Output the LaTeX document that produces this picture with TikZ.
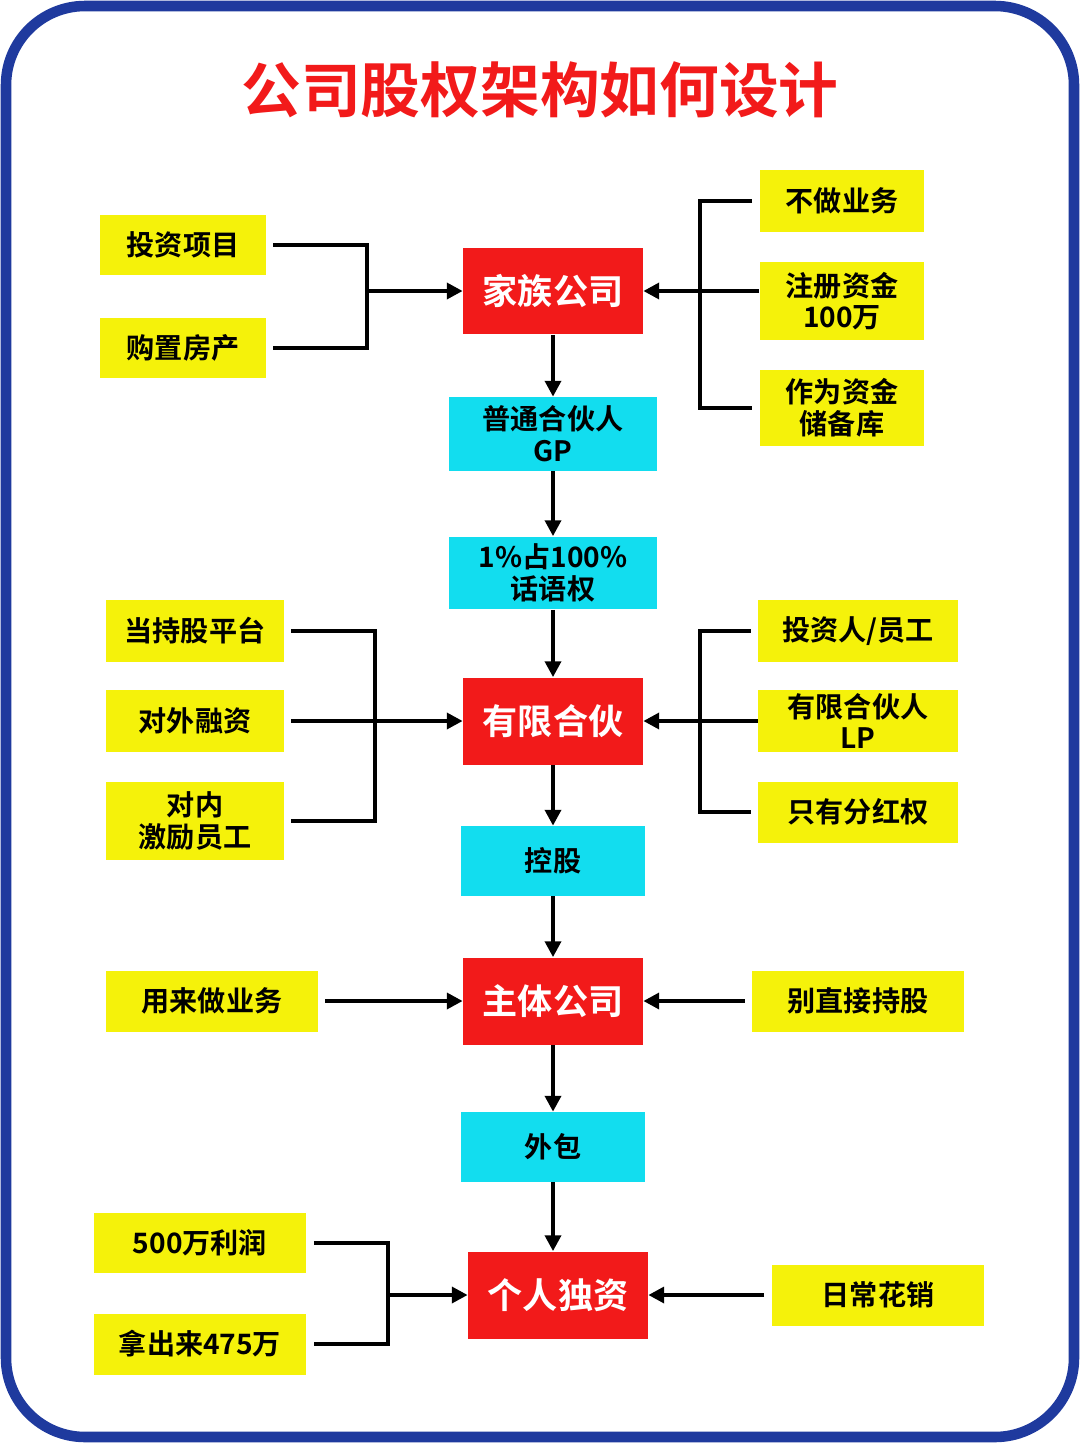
\documentclass[tikz,border=0pt]{standalone}
\usepackage{fontspec}
\setmainfont{Noto Sans CJK SC}[BoldFont=* Bold]
\usetikzlibrary{arrows.meta,positioning}
\definecolor{tagyel}{HTML}{F5F20A}
\definecolor{tagred}{HTML}{F21A1A}
\definecolor{tagcyan}{HTML}{12DDEF}
\definecolor{frameblue}{HTML}{1F3A9E}
\begin{document}
\begin{tikzpicture}[x=0.02cm,y=-0.02cm,
  % box styles
  yel/.style={fill=tagyel, inner sep=0pt, font=\fontsize{16}{18}\selectfont\bfseries, align=center},
  red/.style={fill=tagred, text=white, inner sep=0pt, minimum width=3.6cm, minimum height=1.74cm, font=\fontsize{20}{22}\selectfont\bfseries},
  cyan/.style={fill=tagcyan, inner sep=0pt, font=\fontsize{16}{18}\selectfont\bfseries, align=center},
  line/.style={line width=2.2pt},
  arr/.style={line width=2.2pt, -{Triangle[length=9pt,width=9pt]}}]
\useasboundingbox (0,0) rectangle (1080,1443);
\draw[frameblue, line width=6pt, rounded corners=45, fill=white] (6,6) rectangle (1074,1437);
\node[text=tagred, font=\fontsize{34}{36}\selectfont\bfseries] (title) at (540,90) {公司股权架构如何设计};
% top group
\node[yel, minimum width=3.32cm, minimum height=1.2cm] (inv) at (183,245) {投资项目};
\node[yel, minimum width=3.32cm, minimum height=1.2cm] (house) at (183,348) {购置房产};
\node[red] (family) at (553,291) {家族公司};
\node[yel, minimum width=3.3cm, minimum height=1.24cm] (nobiz) at (842,201) {不做业务};
\node[yel, minimum width=3.3cm, minimum height=1.56cm] (reg) at (842,301) {注册资金\\100万};
\node[yel, minimum width=3.3cm, minimum height=1.52cm] (store) at (842,408) {作为资金\\储备库};
\node[cyan, minimum width=4.16cm, minimum height=1.48cm] (gp) at (553,434) {普通合伙人\\GP};
\node[cyan, minimum width=4.16cm, minimum height=1.46cm] (voice) at (553,573) {1\%占100\%\\话语权};
% middle group
\node[yel, minimum width=3.56cm, minimum height=1.24cm] (hold) at (195,631) {当持股平台};
\node[yel, minimum width=3.56cm, minimum height=1.24cm] (fund) at (195,721) {对外融资};
\node[yel, minimum width=3.56cm, minimum height=1.56cm] (staff) at (195,821) {对内\\激励员工};
\node[red] (lp) at (553,721) {有限合伙};
\node[yel, minimum width=4cm, minimum height=1.24cm] (investor) at (858,631) {投资人/员工};
\node[yel, minimum width=4cm, minimum height=1.24cm] (lpn) at (858,721) {有限合伙人\\LP};
\node[yel, minimum width=4cm, minimum height=1.22cm] (bonus) at (858,812) {只有分红权};
\node[cyan, minimum width=3.7cm, minimum height=1.4cm] (ctrl) at (553,861) {控股};
% main company
\node[yel, minimum width=4.24cm, minimum height=1.22cm] (biz) at (212,1001) {用来做业务};
\node[red] (main) at (553,1001) {主体公司};
\node[yel, minimum width=4.24cm, minimum height=1.22cm] (nodir) at (858,1001) {别直接持股};
\node[cyan, minimum width=3.7cm, minimum height=1.4cm] (out) at (553,1147) {外包};
% bottom group
\node[yel, minimum width=4.26cm, minimum height=1.2cm] (profit) at (200,1243) {500万利润};
\node[yel, minimum width=4.26cm, minimum height=1.22cm] (take) at (200,1344) {拿出来475万};
\node[red] (sole) at (558,1295) {个人独资};
\node[yel, minimum width=4.26cm, minimum height=1.22cm] (spend) at (878,1295) {日常花销};
% connectors
\coordinate (jl1) at (367,291);
\coordinate (jr1) at (700,291);
\coordinate (jl2) at (375,721);
\coordinate (jr2) at (700,721);
\coordinate (jl3) at (388,1295);
\draw[line] ([xshift=4pt]inv.east) -| (jl1) |- ([xshift=4pt]house.east);
\draw[arr] (jl1) -- (family.west);
\draw[line] ([xshift=-4pt]nobiz.west) -| (jr1) |- ([xshift=-4pt]store.west);
\draw[line] (reg.west |- jr1) -- (jr1);
\draw[arr] (jr1) -- (family.east);
\draw[arr] (family) -- (gp);
\draw[arr] (gp) -- (voice);
\draw[arr] (voice) -- (lp);
\draw[line] ([xshift=4pt]hold.east) -| (jl2) |- ([xshift=4pt]staff.east);
\draw[arr] ([xshift=4pt]fund.east) -- (lp.west);
\draw[line] ([xshift=-4pt]investor.west) -| (jr2) |- ([xshift=-4pt]bonus.west);
\draw[arr] (lpn.west) -- (lp.east);
\draw[arr] (lp) -- (ctrl);
\draw[arr] (ctrl) -- (main);
\draw[arr] ([xshift=4pt]biz.east) -- (main.west);
\draw[arr] ([xshift=-4pt]nodir.west) -- (main.east);
\draw[arr] (main) -- (out);
\draw[arr] (out) -- (out |- sole.north);
\draw[line] ([xshift=4pt]profit.east) -| (jl3) |- ([xshift=4pt]take.east);
\draw[arr] (jl3) -- (sole.west);
\draw[arr] ([xshift=-4pt]spend.west) -- (sole.east);
\end{tikzpicture}
\end{document}
